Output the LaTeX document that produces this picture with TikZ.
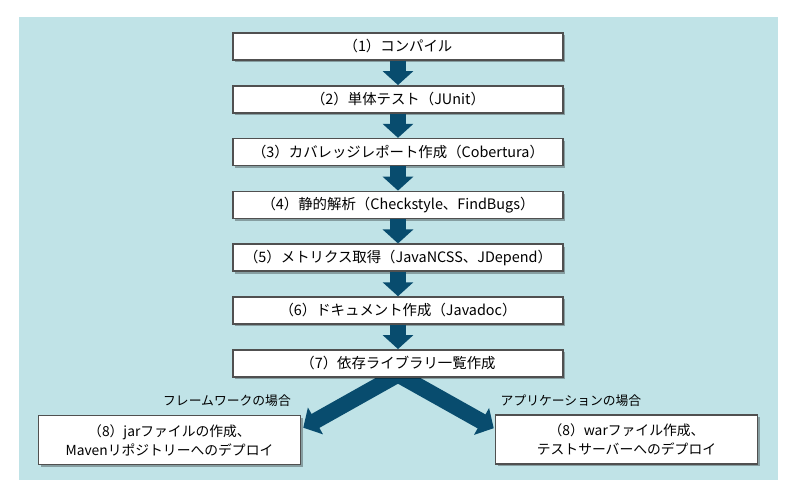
\documentclass[tikz,border=0pt]{standalone}
\usepackage{fontspec}
\setmainfont{Noto Sans CJK JP}
\usetikzlibrary{arrows.meta,shadows}
\definecolor{bgblue}{RGB}{192,227,231}
\definecolor{flownavy}{RGB}{8,76,110}
\definecolor{boxline}{RGB}{80,80,80}
\pgfdeclarelayer{bg}
\pgfsetlayers{bg,main}
\tikzset{
  stepbox/.style={draw=boxline, line width=0.75pt, fill=white, inner sep=0pt,
    minimum width=165pt, minimum height=13.5pt, font=\fontsize{7.2pt}{8pt}\selectfont,
    drop shadow={shadow xshift=1.2pt, shadow yshift=-1.2pt, opacity=0.3, fill=black}},
  endbox/.style={stepbox, minimum width=131pt, minimum height=24.5pt, align=center,
    font=\fontsize{6.9pt}{9.5pt}\selectfont},
  caselabel/.style={inner sep=0pt, font=\fontsize{6.4pt}{8pt}\selectfont},
  flow/.style={draw=flownavy, line width=8pt, -{Triangle[width=15pt,length=7pt]}}
}
\begin{document}
\begin{tikzpicture}[x=0.5pt,y=-0.5pt]
    \useasboundingbox (0,0) rectangle (800,500);

    \node (b1) at (398,46.5) [stepbox] {（1）コンパイル};
    \node (b2) at (398,99.3) [stepbox] {（2）単体テスト（JUnit）};
    \node (b3) at (398,152.1) [stepbox] {（3）カバレッジレポート作成（Cobertura）};
    \node (b4) at (398,204.9) [stepbox] {（4）静的解析（Checkstyle、FindBugs）};
    \node (b5) at (398,257.7) [stepbox] {（5）メトリクス取得（JavaNCSS、JDepend）};
    \node (b6) at (398,310.5) [stepbox] {（6）ドキュメント作成（Javadoc）};
    \node (b7) at (398,363.3) [stepbox] {（7）依存ライブラリ一覧作成};

    \node (lbox) at (169.5,440) [endbox] {（8）jarファイルの作成、\\Mavenリポジトリーへのデプロイ};
    \node (rbox) at (626.5,439.5) [endbox] {（8）warファイル作成、\\テストサーバーへのデプロイ};

    \node (lcase) at (227,401) [caselabel] {フレームワークの場合};
    \node (rcase) at (571,401) [caselabel] {アプリケーションの場合};

    \draw[flow] (b1) -- (b2);
    \draw[flow] (b2) -- (b3);
    \draw[flow] (b3) -- (b4);
    \draw[flow] (b4) -- (b5);
    \draw[flow] (b5) -- (b6);
    \draw[flow] (b6) -- (b7);

    \coordinate (fork) at ([yshift=1.5pt]b7.south);
    \begin{pgfonlayer}{bg}
        \fill[bgblue] (19,17) rectangle (778,480);
        \draw[flow] (fork) -- ([xshift=1pt,yshift=-6.5pt]lbox.north east);
        \draw[flow] (fork) -- ([xshift=-0.5pt,yshift=-7pt]rbox.north west);
    \end{pgfonlayer}
\end{tikzpicture}
\end{document}
